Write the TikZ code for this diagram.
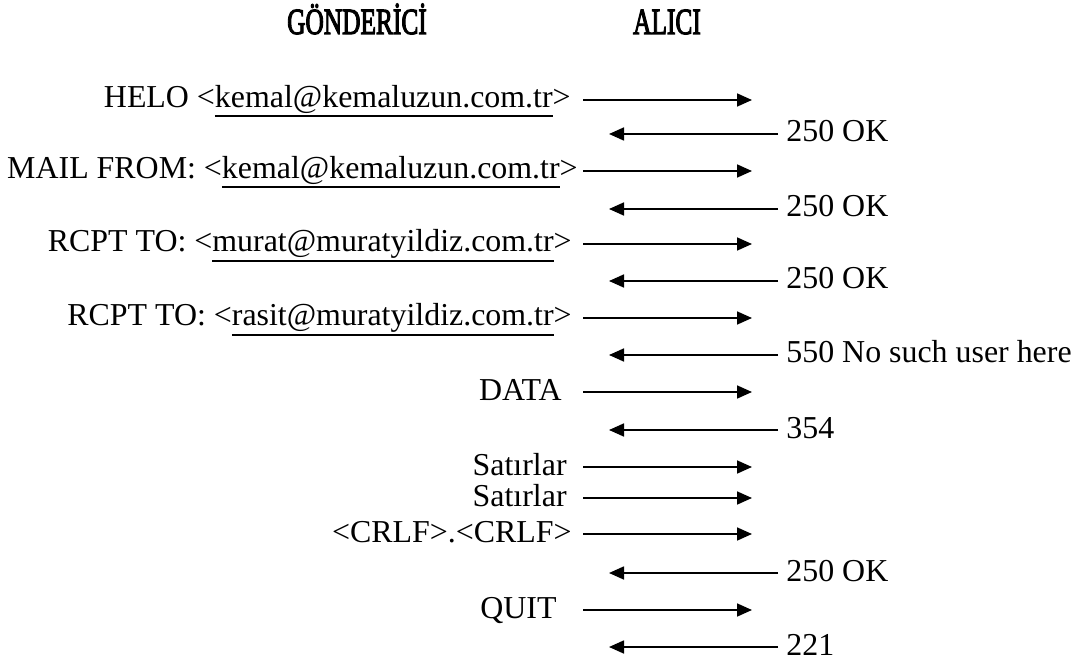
\documentclass[tikz,border=0pt]{standalone}
\usepackage{graphicx}
\usepackage{fontspec}
\setmainfont{Liberation Serif}
\newfontfamily\baslikfont{Liberation Serif}[FakeBold=3.5]
\usetikzlibrary{arrows.meta}
\newcommand{\altcizgi}[1]{\leavevmode\vtop{\hbox{#1}\kern0.6pt\hrule height 0.95pt}}

\begin{document}
\begin{tikzpicture}[x=0.5pt,y=-0.5pt,
    yazi/.style={font=\fontsize{15.95}{19}\selectfont, inner sep=0pt},
    sol/.style={yazi, anchor=base east},
    sag/.style={yazi, anchor=base west},
    baslik/.style={font=\fontsize{18.4}{22}\selectfont\baslikfont, anchor=base, inner sep=0pt},
    ileri/.style={line width=0.85pt, -{Triangle[length=7.5pt,width=6.5pt]}}]
  \useasboundingbox (0,0) rectangle (1080,662);
  % Basliklar
  \node[baslik] (gonderici) at (357,34) {\scalebox{0.69}[1]{GÖNDERİCİ}};
  \node[baslik] (alici) at (667,34) {\scalebox{0.69}[1]{ALICI}};
  % Gondericiden aliciya giden komutlar
  \foreach \n/\y in {1/100,3/171,5/244,7/318,9/392,11/467,12/498,13/534,15/610} {
    \coordinate (g\n) at (583,\y);
    \coordinate (a\n) at (752,\y);
    \draw[ileri] (g\n) -- (a\n);
  }
  % Alicidan donen yanitlar
  \foreach \n/\y in {2/134,4/209,6/281,8/355,10/430,14/573,16/647} {
    \coordinate (a\n) at (778,\y);
    \coordinate (g\n) at (609,\y);
    \draw[ileri] (a\n) -- (g\n);
  }
  % Komutlar
  \node[sol] (k1) at (571,108) {HELO <\altcizgi{kemal@kemaluzun.com.tr}>};
  \node[sol] (k3) at (578,179) {MAIL FROM: <\altcizgi{kemal@kemaluzun.com.tr}>};
  \node[sol] (k5) at (572,252) {RCPT TO: <\altcizgi{murat@muratyildiz.com.tr}>};
  \node[sol] (k7) at (572,326) {RCPT TO: <\altcizgi{rasit@muratyildiz.com.tr}>};
  \node[sol] (k9) at (562,400) {DATA};
  \node[sol] (k11) at (567,475) {Satırlar};
  \node[sol] (k12) at (567,506) {Satırlar};
  \node[sol] (k13) at (572,542) {<CRLF>.<CRLF>};
  \node[sol] (k15) at (557,618) {QUIT};
  % Yanitlar
  \node[sag] (y2) at (786,142) {250 OK};
  \node[sag] (y4) at (786,217) {250 OK};
  \node[sag] (y6) at (786,289) {250 OK};
  \node[sag] (y8) at (786,363) {550 No such user here};
  \node[sag] (y10) at (786,438) {354};
  \node[sag] (y14) at (786,581) {250 OK};
  \node[sag] (y16) at (786,655) {221};
\end{tikzpicture}
\end{document}
